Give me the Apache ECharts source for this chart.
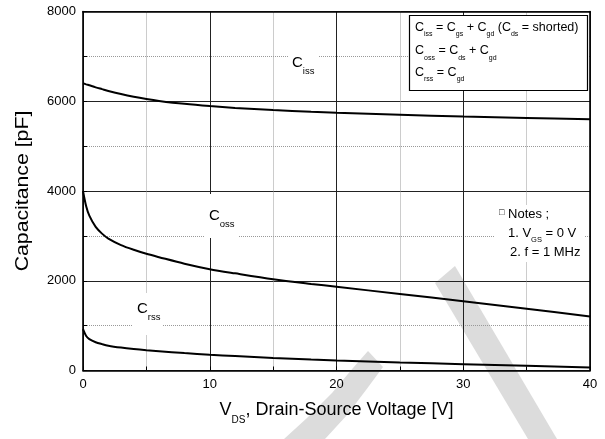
<!DOCTYPE html>
<html>
<head>
<meta charset="utf-8">
<script src="https://cdn.jsdelivr.net/npm/echarts@6/dist/echarts.min.js"></script>
<style>html,body{margin:0;padding:0;background:#fff}#c{width:605px;height:439px}</style>
</head>
<body>
<div id="c"></div>
<script>
// ---- data ----
const vds  = [0, 0.25, 0.5, 1, 1.5, 2, 3, 4, 5, 6, 8, 10, 12, 15, 18, 20, 25, 30, 35, 40];
const ciss = [6400, 6377, 6355, 6310, 6270, 6230, 6160, 6100, 6050, 6008, 5942, 5892, 5852, 5804, 5765, 5743, 5698, 5660, 5628, 5598];
const coss = [4000, 3660, 3450, 3200, 3050, 2940, 2795, 2690, 2600, 2525, 2380, 2258, 2165, 2035, 1930, 1866, 1705, 1545, 1378, 1205];
const crss = [920, 770, 700, 630, 588, 553, 510, 477, 450, 428, 388, 352, 322, 280, 243, 222, 178, 142, 104, 65];
const xTicks = [0, 10, 20, 30, 40];
const yTicks = [0, 2000, 4000, 6000, 8000];

const FONT = "'Liberation Sans', Arial, sans-serif";
const pair = (xs, ys) => xs.map((x, i) => [x, ys[i]]);

const chart = echarts.init(document.getElementById('c'), null, {renderer: 'canvas'});

const lgRich = {
  m: {fontSize: 12.5, fontFamily: FONT, lineHeight: 14, verticalAlign: 'top', fill: '#000'},
  s: {fontSize: 7, fontFamily: FONT, lineHeight: 7, padding: [10, 0, 0, 0], verticalAlign: 'top', fill: '#000'}
};
const lbRich = {
  m: {fontSize: 15, fontFamily: FONT, lineHeight: 16, verticalAlign: 'top', fill: '#000'},
  s: {fontSize: 9.5, fontFamily: FONT, lineHeight: 10, padding: [11, 0, 0, 0], verticalAlign: 'top', fill: '#000'}
};
const ntRich = {
  m: {fontSize: 13, fontFamily: FONT, lineHeight: 14, verticalAlign: 'top', fill: '#000'},
  s: {fontSize: 7.5, fontFamily: FONT, lineHeight: 8, padding: [9, 0, 0, 0], verticalAlign: 'top', fill: '#000'},
  b: {fontSize: 9, fontFamily: FONT, lineHeight: 14, verticalAlign: 'top', fill: '#000'}
};
const txt = (x, y, text, rich) => ({type: 'text', x: x, y: y, z: 101, silent: true,
  style: {text: text, rich: rich, verticalAlign: 'top', align: 'left'}});
const white = (x, y, w, h) => ({type: 'rect', z: 100, silent: true, shape: {x: x, y: y, width: w, height: h}, style: {fill: '#fff'}});

const lineSeries = (name, ys) => ({name: name, type: 'line', data: pair(vds, ys), showSymbol: false,
  smooth: 0.3, lineStyle: {color: '#000', width: 2}, z: 5});

const option = {
  backgroundColor: '#fff',
  animation: false,
  grid: {left: 83, right: 15, top: 11.5, bottom: 68.5, containLabel: false},
  xAxis: [{
    type: 'value', min: 0, max: 40, interval: 10,
    axisLine: {show: true, onZero: false, lineStyle: {color: '#000', width: 1.6}},
    axisTick: {show: true, inside: true, length: 4, lineStyle: {color: '#000'}},
    minorTick: {show: true, splitNumber: 2, length: 4, lineStyle: {color: '#000'}},
    axisLabel: {color: '#000', fontSize: 13, fontFamily: FONT, margin: 7,
      formatter: v => xTicks.includes(v) ? String(v) : ''},
    splitLine: {show: true, lineStyle: {color: '#222', width: 1, type: 'solid'}},
    minorSplitLine: {show: true, lineStyle: {color: '#999', width: 1, type: 'dotted'}},
    name: '{m|V}{s|DS}{m|, Drain-Source Voltage [V]}',
    nameLocation: 'middle', nameGap: 31,
    nameTextStyle: {rich: {
      m: {fontSize: 18, fontFamily: FONT, color: '#000', lineHeight: 20, verticalAlign: 'top'},
      s: {fontSize: 10, fontFamily: FONT, color: '#000', lineHeight: 10, padding: [14, 0, 0, 0], verticalAlign: 'top'}
    }}
  }, {
    type: 'value', min: 0, max: 40, interval: 10, position: 'top',
    axisLine: {show: true, onZero: false, lineStyle: {color: '#000', width: 1.6}},
    axisTick: {show: false}, axisLabel: {show: false}, splitLine: {show: false}
  }],
  yAxis: [{
    type: 'value', min: 0, max: 8000, interval: 2000,
    axisLine: {show: true, onZero: false, lineStyle: {color: '#000', width: 1.6}},
    axisTick: {show: true, inside: true, length: 4, lineStyle: {color: '#000'}},
    minorTick: {show: true, splitNumber: 2, length: 4, lineStyle: {color: '#000'}},
    axisLabel: {color: '#000', fontSize: 13, fontFamily: FONT, margin: 7,
      formatter: v => yTicks.includes(v) ? String(v) : ''},
    splitLine: {show: true, lineStyle: {color: '#222', width: 1, type: 'solid'}},
    minorSplitLine: {show: true, lineStyle: {color: '#999', width: 1, type: 'dotted'}}
  }, {
    type: 'value', min: 0, max: 8000, interval: 2000, position: 'right',
    axisLine: {show: true, onZero: false, lineStyle: {color: '#000', width: 1.6}},
    axisTick: {show: false}, axisLabel: {show: false}, splitLine: {show: false}
  }],
  series: [lineSeries('Ciss', ciss), lineSeries('Coss', coss), lineSeries('Crss', crss)],
  graphic: [
    // watermark strokes
    {type: 'polygon', z: -10, silent: true, shape: {points: [[284,439],[307,418],[332,393],[353,368],[368,351],[383,367],[366,390],[347,415],[325,439]]}, style: {fill: '#dcdcdc'}},
    {type: 'polygon', z: -10, silent: true, shape: {points: [[435,283],[455,266],[557,439],[528,439]]}, style: {fill: '#dcdcdc'}},
    // y axis title (slightly stretched along its length, as in the reference)
    {type: 'text', x: 23, y: 191, rotation: Math.PI / 2, scaleX: 1.18, silent: true,
     style: {text: 'Capacitance [pF]', fontSize: 18, fontFamily: FONT, fill: '#000', align: 'center', verticalAlign: 'middle'}},
    // legend box
    {type: 'rect', z: 100, silent: true, shape: {x: 409.5, y: 15.5, width: 178, height: 75}, style: {fill: '#fff', stroke: '#000', lineWidth: 1.2}},
    txt(415, 21, '{m|C}{s|iss}{m| = C}{s|gs}{m| + C}{s|gd}{m| (C}{s|ds}{m| = shorted)}', lgRich),
    txt(415, 44.5, '{m|C}{s|oss}{m| = C}{s|ds}{m| + C}{s|gd}', lgRich),
    txt(415, 66, '{m|C}{s|rss}{m| = C}{s|gd}', lgRich),
    // curve labels
    white(288, 48, 30, 32), txt(292, 55, '{m|C}{s|iss}', lbRich),
    white(205, 194, 33, 44), txt(209, 208, '{m|C}{s|oss}', lbRich),
    white(132, 293, 31, 42), txt(137, 301, '{m|C}{s|rss}', lbRich),
    // notes
    white(494, 205, 90, 57),
    txt(499, 208, '{b|\u25A1}{m| Notes ;}', ntRich),
    txt(508, 227, '{m|1. V}{s|GS}{m| = 0 V}', ntRich),
    txt(510, 245.5, '{m|2. f = 1 MHz}', ntRich)
  ]
};
chart.setOption(option);
</script>
</body>
</html>
